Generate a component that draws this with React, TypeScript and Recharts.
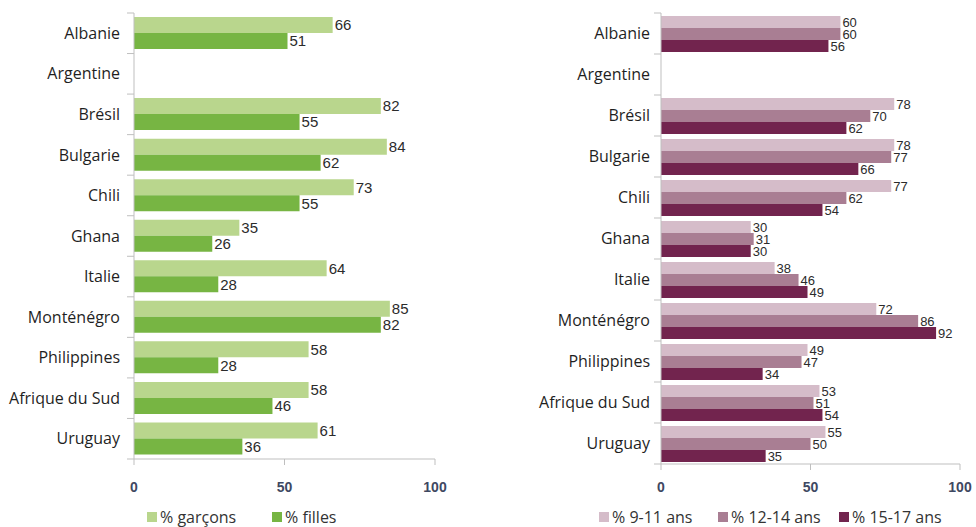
import { BarChart, Bar, XAxis, YAxis, LabelList } from "recharts";

const countries = [
  "Albanie",
  "Argentine",
  "Brésil",
  "Bulgarie",
  "Chili",
  "Ghana",
  "Italie",
  "Monténégro",
  "Philippines",
  "Afrique du Sud",
  "Uruguay",
];

// left panel: by sex
const garcons = [66, null, 82, 84, 73, 35, 64, 85, 58, 58, 61];
const filles = [51, null, 55, 62, 55, 26, 28, 82, 28, 46, 36];

// right panel: by age group
const age9to11 = [60, null, 78, 78, 77, 30, 38, 72, 49, 53, 55];
const age12to14 = [60, null, 70, 77, 62, 31, 46, 86, 47, 51, 50];
const age15to17 = [56, null, 62, 66, 54, 30, 49, 92, 34, 54, 35];

const xTicks = [0, 50, 100];

const sexSeries = [
  { key: "garcons", name: "% garçons", color: "#b9d68d", values: garcons },
  { key: "filles", name: "% filles", color: "#77b543", values: filles },
];

const ageSeries = [
  { key: "a", name: "% 9-11 ans", color: "#d5bcc9", values: age9to11 },
  { key: "b", name: "% 12-14 ans", color: "#a97e93", values: age12to14 },
  { key: "c", name: "% 15-17 ans", color: "#72244e", values: age15to17 },
];

const AXIS = "#bfbfbf";
const CAT_FONT = "'Open Sans', sans-serif";
const VAL_FONT = "'Liberation Sans', Arial, sans-serif";

function buildRows(series: { key: string; values: (number | null)[] }[]) {
  return countries.map((c, i) => {
    const row: Record<string, any> = { country: c };
    series.forEach((s) => {
      row[s.key] = s.values[i];
    });
    return row;
  });
}

function CategoryTick(props: any) {
  const { x, y, payload, index, band, axisX } = props;
  return (
    <g>
      <text
        x={x}
        y={y}
        dy="0.35em"
        textAnchor="end"
        fontSize={16}
        fontFamily={CAT_FONT}
        fill="#1f1f1f"
      >
        {payload.value}
      </text>
      <line x1={axisX - 7} x2={axisX} y1={y - band / 2} y2={y - band / 2} stroke={AXIS} />
      {index === countries.length - 1 && (
        <line x1={axisX - 7} x2={axisX} y1={y + band / 2} y2={y + band / 2} stroke={AXIS} />
      )}
    </g>
  );
}

type Series = { key: string; name: string; color: string; values: (number | null)[] };

interface PanelProps {
  series: Series[];
  left: number;
  width: number;
  yAxisWidth: number;
  marginRight: number;
  plotBottom: number;
  gap: number;
  tickMargin: number;
  xTickMargin: number;
  labelSize: number;
}

const HEIGHT = 527;
const TOP = 13;

function Panel({
  series,
  left,
  width,
  yAxisWidth,
  marginRight,
  plotBottom,
  gap,
  tickMargin,
  xTickMargin,
  labelSize,
}: PanelProps) {
  const data = buildRows(series);
  const band = (plotBottom - TOP) / countries.length;
  return (
    <div style={{ position: "absolute", left, top: 0 }}>
      <BarChart
        width={width}
        height={HEIGHT}
        data={data}
        layout="vertical"
        barGap={0}
        barCategoryGap={gap}
        margin={{ top: TOP, right: marginRight, left: 0, bottom: HEIGHT - plotBottom - 40 }}
      >
        <XAxis
          type="number"
          domain={[0, 100]}
          ticks={xTicks}
          height={40}
          stroke={AXIS}
          tickSize={6}
          tickMargin={xTickMargin}
          tick={{ fill: "#3e4862", fontSize: 14, fontWeight: 700, fontFamily: VAL_FONT }}
        />
        <YAxis
          type="category"
          dataKey="country"
          width={yAxisWidth}
          stroke={AXIS}
          tickLine={false}
          tickSize={0}
          tickMargin={tickMargin}
          interval={0}
          tick={(p: any) => <CategoryTick {...p} band={band} axisX={yAxisWidth} />}
        />
        {series.map((s) => (
          <Bar key={s.key} dataKey={s.key} name={s.name} fill={s.color} isAnimationActive={false}>
            <LabelList
              dataKey={s.key}
              position="right"
              offset={2}
              fill="#2b2b2b"
              fontSize={labelSize}
              fontFamily={VAL_FONT}
            />
          </Bar>
        ))}
      </BarChart>
    </div>
  );
}

function LegendRow({ series, xs }: { series: Series[]; xs: number[] }) {
  return (
    <>
      {series.map((s, i) => (
        <div
          key={s.key}
          style={{
            position: "absolute",
            left: xs[i],
            top: 507,
            display: "flex",
            alignItems: "center",
            fontFamily: CAT_FONT,
            fontSize: 16,
            color: "#333333",
            lineHeight: "20px",
            whiteSpace: "nowrap",
          }}
        >
          <span style={{ width: 10, height: 10, background: s.color, marginRight: 3, display: "inline-block" }} />
          <span>{s.name}</span>
        </div>
      ))}
    </>
  );
}

export default function App() {
  return (
    <div style={{ position: "absolute", left: 0, top: 0, width: 976, height: HEIGHT, background: "#fff" }}>
      <Panel
        series={sexSeries}
        left={0}
        width={450}
        yAxisWidth={134}
        marginRight={15}
        plotBottom={459}
        gap={4}
        tickMargin={14}
        xTickMargin={17}
        labelSize={15}
      />
      <Panel
        series={ageSeries}
        left={490}
        width={486}
        yAxisWidth={171}
        marginRight={16}
        plotBottom={464}
        gap={3}
        tickMargin={11}
        xTickMargin={12}
        labelSize={13}
      />
      <LegendRow series={sexSeries} xs={[147, 272]} />
      <LegendRow series={ageSeries} xs={[599, 718, 839]} />
    </div>
  );
}
